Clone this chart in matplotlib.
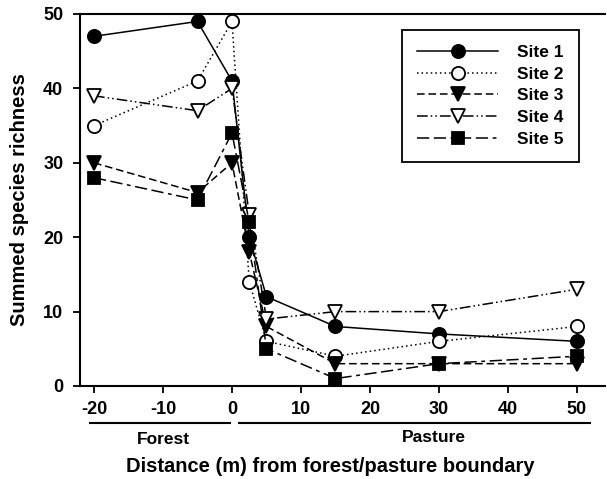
import matplotlib
matplotlib.use("Agg")
import matplotlib.pyplot as plt
from matplotlib.transforms import blended_transform_factory

plt.rcParams['font.family'] = ['Liberation Sans', 'DejaVu Sans']
plt.rcParams['font.weight'] = 'bold'

distance = [-20, -5, 0, 2.5, 5, 15, 30, 50]
site1 = [47, 49, 41, 20, 12, 8, 7, 6]
site2 = [35, 41, 49, 14, 6, 4, 6, 8]
site3 = [30, 26, 30, 18, 8, 3, 3, 3]
site4 = [39, 37, 40, 23, 9, 10, 10, 13]
site5 = [28, 25, 34, 22, 5, 1, 3, 4]
labels = ["Site 1", "Site 2", "Site 3", "Site 4", "Site 5"]
xticks = [-20, -10, 0, 10, 20, 30, 40, 50]
yticks = [0, 10, 20, 30, 40, 50]

fig = plt.figure(figsize=(6.07, 4.79), dpi=100)
ax = fig.add_axes([80/607, (479-386)/479, 525/607, 372/479])

styles = [
    dict(marker='o', mfc='black', ls='-'),
    dict(marker='o', mfc='white', dashes=(1, 2)),
    dict(marker='v', mfc='black', dashes=(5, 2.5)),
    dict(marker='v', mfc='white', dashes=(7, 2, 1, 2, 1, 2)),
    dict(marker='s', mfc='black', dashes=(8, 3, 8, 3, 2.5, 3)),
]
sizes = [9.5, 9.5, 9.5, 9.5, 8.5]
for ys, lab, st, ms in zip([site1, site2, site3, site4, site5], labels, styles, sizes):
    ax.plot(distance, ys, color='black', lw=1.1, mec='black', mew=1.3,
            ms=ms, label=lab, clip_on=False, **st)

ax.set_xlim(-22.03, 54.06)
ax.set_ylim(0, 50)
ax.set_xticks(xticks)
ax.set_yticks(yticks)
ax.set_xticklabels([str(v) for v in xticks])
ax.set_yticklabels([str(v) for v in yticks])
ax.tick_params(axis='both', direction='out', length=5, width=1.3, labelsize=13)
ax.tick_params(axis='y', pad=7)
ax.tick_params(axis='x', pad=6)
for lbl in ax.get_xticklabels() + ax.get_yticklabels():
    lbl.set_fontweight('bold')

for s in ['left', 'bottom', 'top']:
    ax.spines[s].set_linewidth(1.5)
ax.spines['right'].set_visible(False)

ax.set_ylabel("Summed species richness", fontsize=14.5, fontweight='bold')
ax.yaxis.set_label_coords(-0.098, 0.5)
ax.set_xlabel("Distance (m) from forest/pasture boundary", fontsize=14.5, fontweight='bold')
ax.xaxis.set_label_coords(0.476, -0.19)

tr = blended_transform_factory(ax.transData, fig.transFigure)
yl = (479 - 423) / 479
ax.plot([-20.6, -0.3], [yl, yl], transform=tr, color='black', lw=1.5, clip_on=False)
ax.plot([1.0, 51.9], [yl, yl], transform=tr, color='black', lw=1.5, clip_on=False)
ax.text(-10, (479 - 440) / 479, "Forest", transform=tr, ha='center', va='center',
        fontsize=12.5, fontweight='bold')
ax.text(29.3, (479 - 438) / 479, "Pasture", transform=tr, ha='center', va='center',
        fontsize=12.5, fontweight='bold')

leg = ax.legend(loc='upper right', bbox_to_anchor=(0.950, 0.957), borderaxespad=0,
                fancybox=False, edgecolor='black', framealpha=1, handlelength=4.7,
                prop={'weight': 'bold', 'size': 12.5}, labelspacing=0.38,
                handletextpad=1.1, borderpad=0.85)
leg.get_frame().set_linewidth(1.3)

fig.savefig("out.png", dpi=100)
